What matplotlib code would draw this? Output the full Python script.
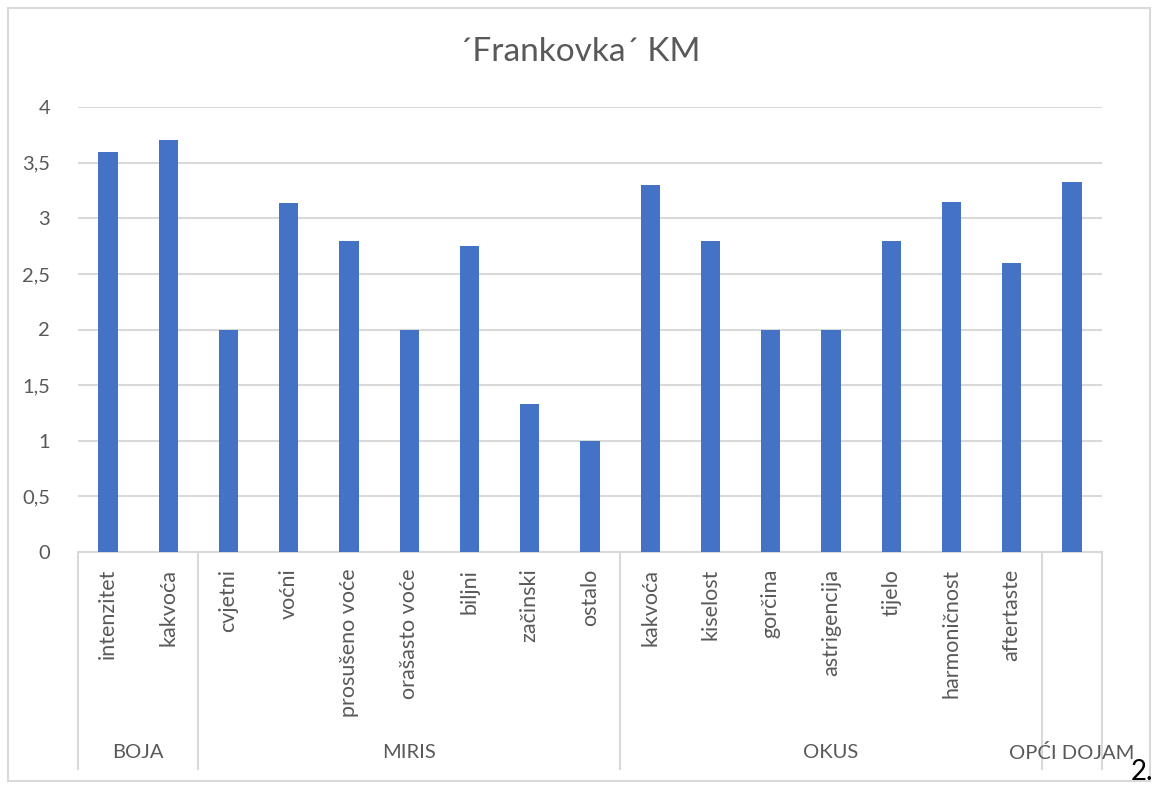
import matplotlib
matplotlib.use("Agg")
import matplotlib.pyplot as plt
from matplotlib.patches import Rectangle
import matplotlib.transforms as mtransforms

plt.rcParams['font.family'] = ['Lato', 'DejaVu Sans']

title = "´Frankovka´ KM"
categories = ["intenzitet", "kakvoća", "cvjetni", "voćni", "prosušeno voće",
              "orašasto voće", "biljni", "začinski", "ostalo", "kakvoća",
              "kiselost", "gorčina", "astrigencija", "tijelo", "harmoničnost",
              "aftertaste", ""]
values = [3.6, 3.7, 2.0, 3.14, 2.8, 2.0, 2.75, 1.33, 1.0, 3.3, 2.8, 2.0, 2.0,
          2.8, 3.15, 2.6, 3.33]
groups = ["BOJA", "MIRIS", "OKUS", "OPĆI DOJAM"]
group_sizes = [2, 7, 7, 1]
yticks = [0, 0.5, 1, 1.5, 2, 2.5, 3, 3.5, 4]
ytick_labels = ["0", "0,5", "1", "1,5", "2", "2,5", "3", "3,5", "4"]

W, H = 1160, 787
fig = plt.figure(figsize=(W / 100, H / 100), dpi=100)
text_c = "#595959"
grid_c = "#d9d9d9"

# outer chart border
fig.patches.append(Rectangle((8 / W, 1 - 781 / H), (1150 - 8) / W, (781 - 8) / H,
                             transform=fig.transFigure, fill=False,
                             edgecolor=grid_c, linewidth=1.5))

left, right, bottom, top = 78, 1102, 552, 107
ax = fig.add_axes([left / W, 1 - bottom / H, (right - left) / W, (bottom - top) / H])

n = len(categories)
x = list(range(n))
ax.bar(x, values, width=0.32, color="#4472C4", zorder=3)
ax.set_xlim(-0.5, n - 0.5)
ax.set_ylim(0, 4)
ax.set_yticks(yticks)
ax.set_yticklabels(ytick_labels)
ax.yaxis.grid(True, color=grid_c, linewidth=1.5, zorder=0)
ax.set_axisbelow(True)
for s in ["top", "right", "left"]:
    ax.spines[s].set_visible(False)
ax.spines["bottom"].set_color(grid_c)
ax.spines["bottom"].set_linewidth(1.5)
ax.tick_params(axis="y", length=0, pad=20, labelsize=14.5, labelcolor=text_c)
ax.set_xticks(x)
ax.set_xticklabels(categories, rotation=90, fontsize=15.5, color=text_c)
ax.tick_params(axis="x", length=0, pad=12)

# group separators and group labels
trans = mtransforms.blended_transform_factory(ax.transData, ax.transAxes)
ybot = -(769 - bottom) / (bottom - top)
ylab = -(753 - bottom) / (bottom - top)
pos = -0.5
ax.plot([pos, pos], [0, ybot], transform=trans, color=grid_c, lw=1.5, clip_on=False)
for g, sz in zip(groups, group_sizes):
    end = pos + sz
    ax.plot([end, end], [0, ybot], transform=trans, color=grid_c, lw=1.5, clip_on=False)
    ax.text((pos + end) / 2, ylab, g, transform=trans, ha="center", va="center",
            fontsize=14.5, color=text_c, clip_on=False)
    pos = end

fig.text(0.5, 1 - 52 / H, title, ha="center", va="center", fontsize=24, color=text_c)
fig.text(1131 / W, 1 - 785 / H, "2.", ha="left", va="bottom", fontsize=20, color="black")

fig.savefig("out.png", dpi=100)
